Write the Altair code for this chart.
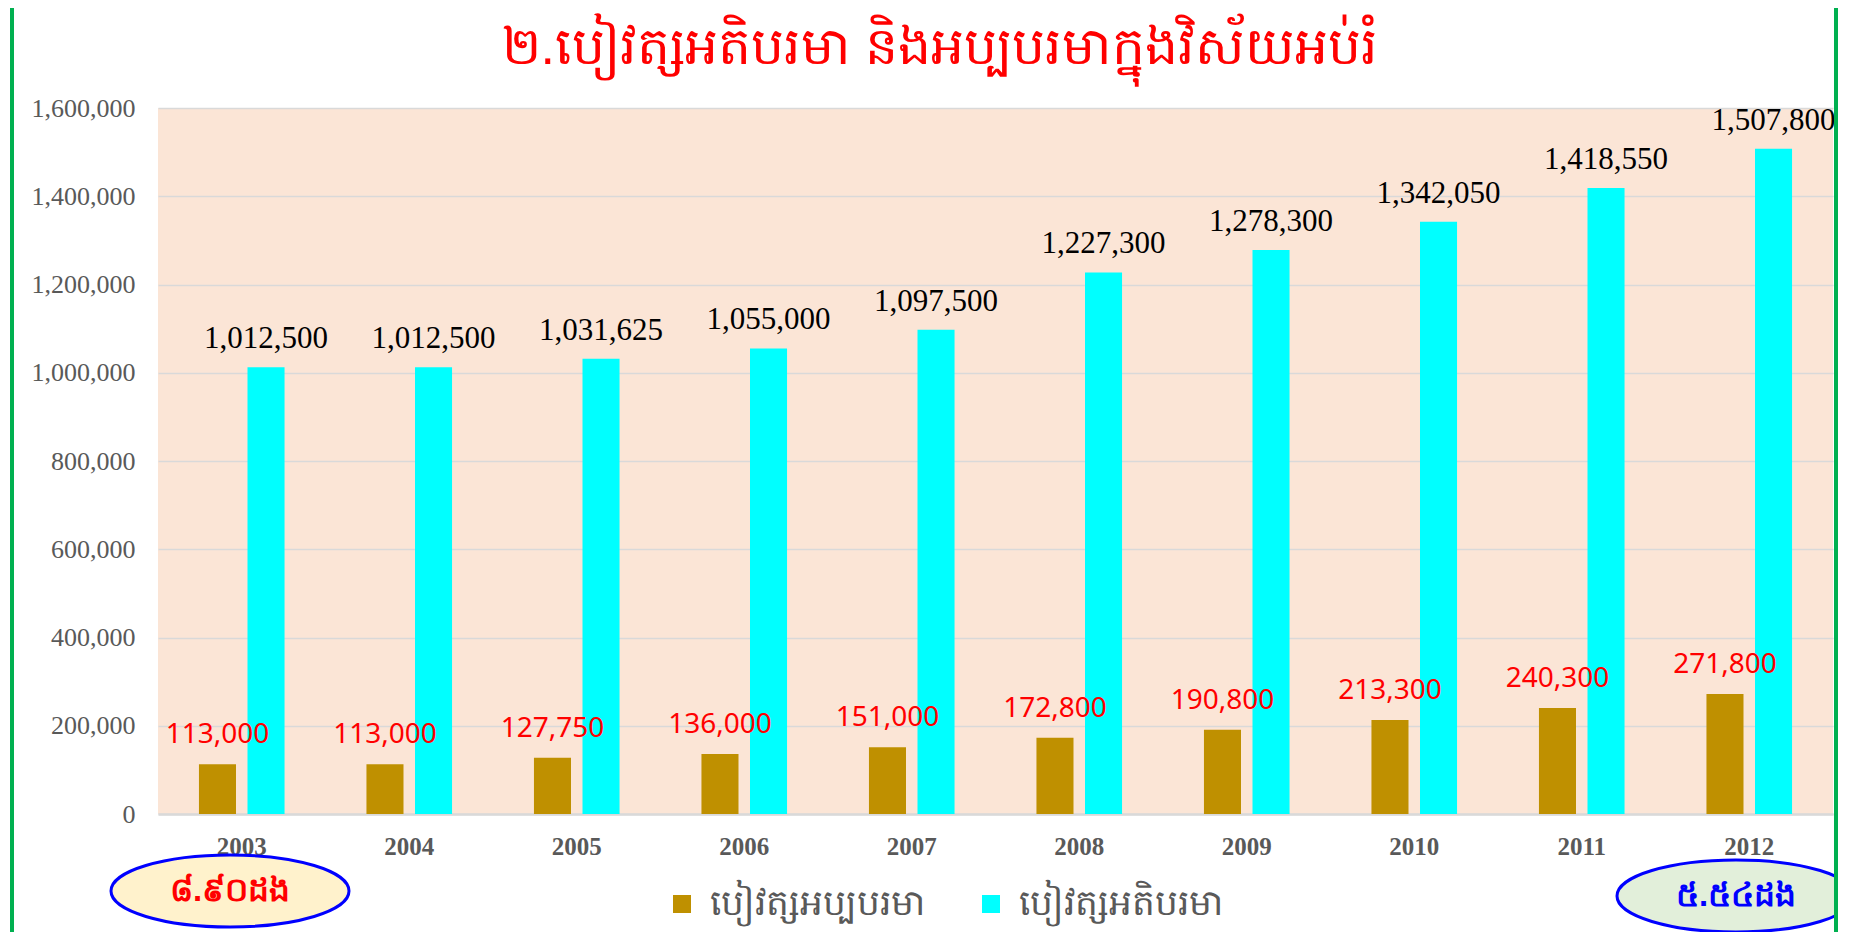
import altair as alt
import pandas as pd

years = ["2003", "2004", "2005", "2006", "2007", "2008", "2009", "2010", "2011", "2012"]
min_salary = [113000, 113000, 127750, 136000, 151000, 172800, 190800, 213300, 240300, 271800]
max_salary = [1012500, 1012500, 1031625, 1055000, 1097500, 1227300, 1278300, 1342050, 1418550, 1507800]
series_min = "បៀវត្សអប្បបរមា"
series_max = "បៀវត្សអតិបរមា"
title_text = "២.បៀវត្សអតិបរមា និងអប្បបរមាក្នុងវិស័យអប់រំ"
left_note = "៨.៩០ដង"
right_note = "៥.៥៤ដង"
y_ticks = list(range(0, 1600001, 200000))

rows = []
for yr, mn, mx in zip(years, min_salary, max_salary):
    rows.append({"year": yr, "series": series_min, "value": mn})
    rows.append({"year": yr, "series": series_max, "value": mx})
df = pd.DataFrame(rows)

W, H = 1675, 706
SERIF = "Liberation Serif"

x_enc = alt.X("year:N", sort=years,
              scale=alt.Scale(paddingInner=0.489, paddingOuter=0.2445),
              axis=alt.Axis(title=None, labelAngle=0, labelFont=SERIF, labelFontSize=25,
                            labelFontWeight="bold", labelColor="#595959", ticks=False,
                            domainColor="#D9D9D9", domainWidth=2.5, labelPadding=20, grid=False))
xo_enc = alt.XOffset("series:N", scale=alt.Scale(domain=[series_min, series_max],
                                                 paddingInner=0.237, paddingOuter=0))
y_enc = alt.Y("value:Q", scale=alt.Scale(domain=[0, 1600000], nice=False),
              axis=alt.Axis(title=None, values=y_ticks, format=",d", labelFont=SERIF,
                            labelFontSize=26, labelColor="#595959", domain=False, ticks=False,
                            labelPadding=23, gridColor="#D9D9D9", gridWidth=1.5))

base = alt.Chart(df)

bars = base.mark_bar().encode(
    x=x_enc, xOffset=xo_enc, y=y_enc,
    color=alt.Color("series:N",
                    scale=alt.Scale(domain=[series_min, series_max], range=["#BF9000", "#00FFFF"]),
                    legend=alt.Legend(orient="none", legendX=506, legendY=778, direction="horizontal",
                                      title=None, symbolType="square", symbolSize=324,
                                      symbolStrokeWidth=0, labelFontSize=36, labelColor="#595959",
                                      labelLimit=0, columnPadding=48, labelOffset=10)),
)

txt_max = base.transform_filter(alt.datum.series == series_max).mark_text(
    font=SERIF, fontSize=31, color="#000000", baseline="alphabetic", dy=-19
).encode(x=alt.X("year:N", sort=years), xOffset="series:N", y="value:Q",
         text=alt.Text("value:Q", format=",d"))

txt_min = base.transform_filter(alt.datum.series == series_min).mark_text(
    font="Noto Sans", fontSize=28, color="#FF0000", baseline="alphabetic", dy=-21
).encode(x=alt.X("year:N", sort=years), xOffset="series:N", y="value:Q",
         text=alt.Text("value:Q", format=",d"))

title_df = pd.DataFrame({"t": [title_text]})
title = alt.Chart(title_df).mark_text(fontSize=52, color="#FF0000", baseline="middle",
                                      align="center").encode(
    x=alt.value(782), y=alt.value(-60), text="t:N")

notes_df = pd.DataFrame({"t": [left_note, right_note],
                         "px": [72, 1578], "py": [783, 788],
                         "fill": ["#FFF2CC", "#E2EFDA"], "tc": ["#FF0000", "#0000FF"]})
ell_path = "M -1 0 A 1 0.3025 0 1 0 1 0 A 1 0.3025 0 1 0 -1 0 Z"
ellipses = alt.Chart(notes_df).mark_point(shape=ell_path, filled=True, size=238 * 238,
                                          stroke="#0000FF", strokeWidth=3, opacity=1).encode(
    x=alt.X("px:Q", scale=None), y=alt.Y("py:Q", scale=None),
    fill=alt.Fill("fill:N", scale=None))
note_txt = alt.Chart(notes_df).mark_text(fontSize=33, fontWeight="bold", baseline="middle",
                                         align="center").encode(
    x=alt.X("px:Q", scale=None), y=alt.Y("py:Q", scale=None), text="t:N",
    color=alt.Color("tc:N", scale=None))

border = alt.Chart(title_df).mark_rect(filled=False, stroke="#00B050", strokeWidth=4).encode(
    x=alt.value(-146), x2=alt.value(1678), y=alt.value(-106), y2=alt.value(860))

chart = alt.layer(bars, txt_max, txt_min, title, ellipses, note_txt, border).resolve_scale(
    color="independent"
).properties(
    width=W, height=H,
    autosize=alt.AutoSizeParams(type="none"),
    padding={"left": 150, "top": 100, "right": 5, "bottom": 118},
    background="#FFFFFF",
).configure_view(fill="#FBE5D6", stroke=None)

chart.save("out.html", embed_options={"renderer": "svg", "actions": False})
